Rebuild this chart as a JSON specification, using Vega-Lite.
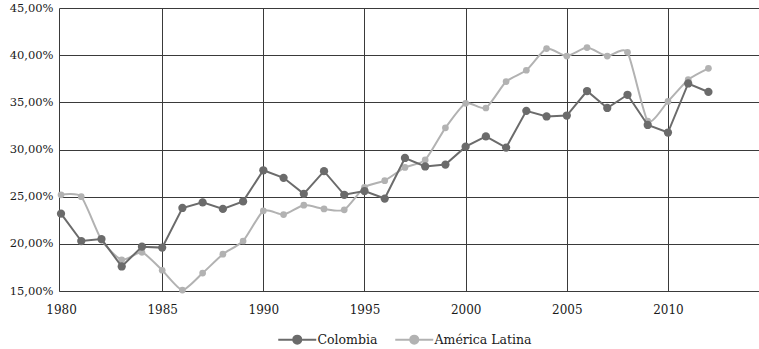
{
  "$schema": "https://vega.github.io/schema/vega-lite/v6.json",
  "width": 700,
  "height": 283,
  "autosize": {"type": "none"},
  "padding": {"left": 59, "top": 8, "right": 0, "bottom": 58},
  "background": "white",
  "config": {
    "view": {"stroke": null},
    "font": "DejaVu Serif"
  },
  "data": {
    "values": [
      {"year": 1980, "serie": "Colombia", "valor": 23.2},
      {"year": 1981, "serie": "Colombia", "valor": 20.3},
      {"year": 1982, "serie": "Colombia", "valor": 20.5},
      {"year": 1983, "serie": "Colombia", "valor": 17.6},
      {"year": 1984, "serie": "Colombia", "valor": 19.7},
      {"year": 1985, "serie": "Colombia", "valor": 19.6},
      {"year": 1986, "serie": "Colombia", "valor": 23.8},
      {"year": 1987, "serie": "Colombia", "valor": 24.4},
      {"year": 1988, "serie": "Colombia", "valor": 23.7},
      {"year": 1989, "serie": "Colombia", "valor": 24.5},
      {"year": 1990, "serie": "Colombia", "valor": 27.8},
      {"year": 1991, "serie": "Colombia", "valor": 27.0},
      {"year": 1992, "serie": "Colombia", "valor": 25.3},
      {"year": 1993, "serie": "Colombia", "valor": 27.7},
      {"year": 1994, "serie": "Colombia", "valor": 25.2},
      {"year": 1995, "serie": "Colombia", "valor": 25.6},
      {"year": 1996, "serie": "Colombia", "valor": 24.8},
      {"year": 1997, "serie": "Colombia", "valor": 29.1},
      {"year": 1998, "serie": "Colombia", "valor": 28.2},
      {"year": 1999, "serie": "Colombia", "valor": 28.4},
      {"year": 2000, "serie": "Colombia", "valor": 30.3},
      {"year": 2001, "serie": "Colombia", "valor": 31.4},
      {"year": 2002, "serie": "Colombia", "valor": 30.2},
      {"year": 2003, "serie": "Colombia", "valor": 34.1},
      {"year": 2004, "serie": "Colombia", "valor": 33.5},
      {"year": 2005, "serie": "Colombia", "valor": 33.6},
      {"year": 2006, "serie": "Colombia", "valor": 36.2},
      {"year": 2007, "serie": "Colombia", "valor": 34.4},
      {"year": 2008, "serie": "Colombia", "valor": 35.8},
      {"year": 2009, "serie": "Colombia", "valor": 32.6},
      {"year": 2010, "serie": "Colombia", "valor": 31.8},
      {"year": 2011, "serie": "Colombia", "valor": 37.0},
      {"year": 2012, "serie": "Colombia", "valor": 36.1},
      {"year": 1980, "serie": "América Latina", "valor": 25.2},
      {"year": 1981, "serie": "América Latina", "valor": 25.0},
      {"year": 1982, "serie": "América Latina", "valor": 20.4},
      {"year": 1983, "serie": "América Latina", "valor": 18.3},
      {"year": 1984, "serie": "América Latina", "valor": 19.1},
      {"year": 1985, "serie": "América Latina", "valor": 17.2},
      {"year": 1986, "serie": "América Latina", "valor": 15.1},
      {"year": 1987, "serie": "América Latina", "valor": 16.9},
      {"year": 1988, "serie": "América Latina", "valor": 18.9},
      {"year": 1989, "serie": "América Latina", "valor": 20.3},
      {"year": 1990, "serie": "América Latina", "valor": 23.5},
      {"year": 1991, "serie": "América Latina", "valor": 23.1},
      {"year": 1992, "serie": "América Latina", "valor": 24.1},
      {"year": 1993, "serie": "América Latina", "valor": 23.7},
      {"year": 1994, "serie": "América Latina", "valor": 23.6},
      {"year": 1995, "serie": "América Latina", "valor": 26.0},
      {"year": 1996, "serie": "América Latina", "valor": 26.7},
      {"year": 1997, "serie": "América Latina", "valor": 28.1},
      {"year": 1998, "serie": "América Latina", "valor": 28.9},
      {"year": 1999, "serie": "América Latina", "valor": 32.3},
      {"year": 2000, "serie": "América Latina", "valor": 34.9},
      {"year": 2001, "serie": "América Latina", "valor": 34.4},
      {"year": 2002, "serie": "América Latina", "valor": 37.2},
      {"year": 2003, "serie": "América Latina", "valor": 38.4},
      {"year": 2004, "serie": "América Latina", "valor": 40.7},
      {"year": 2005, "serie": "América Latina", "valor": 39.9},
      {"year": 2006, "serie": "América Latina", "valor": 40.8},
      {"year": 2007, "serie": "América Latina", "valor": 39.9},
      {"year": 2008, "serie": "América Latina", "valor": 40.3},
      {"year": 2009, "serie": "América Latina", "valor": 33.0},
      {"year": 2010, "serie": "América Latina", "valor": 35.1},
      {"year": 2011, "serie": "América Latina", "valor": 37.4},
      {"year": 2012, "serie": "América Latina", "valor": 38.6}
    ]
  },
  "encoding": {
    "x": {
      "field": "year",
      "type": "quantitative",
      "scale": {"domain": [1979.9, 2014.5], "nice": false, "zero": false},
      "axis": {
        "title": null,
        "values": [1980, 1985, 1990, 1995, 2000, 2005, 2010],
        "format": "d",
        "grid": true,
        "gridColor": "#3a3a3a",
        "gridWidth": 1,
        "gridOpacity": {"condition": {"test": "datum.value == 1980", "value": 0}, "value": 1},
        "ticks": false,
        "domain": true,
        "domainColor": "#3a3a3a",
        "domainWidth": 1,
        "labelPadding": 13,
        "labelFont": "DejaVu Serif",
        "labelFontSize": 12,
        "labelColor": "#1a1a1a"
      }
    },
    "y": {
      "field": "valor",
      "type": "quantitative",
      "scale": {"domain": [15, 45], "nice": false, "zero": false},
      "axis": {
        "title": null,
        "values": [15, 20, 25, 30, 35, 40, 45],
        "labelExpr": "replace(format(datum.value, '.2f'), '.', ',') + '%'",
        "grid": true,
        "gridColor": "#3a3a3a",
        "gridWidth": 1,
        "ticks": false,
        "domain": true,
        "domainColor": "#3a3a3a",
        "domainWidth": 1,
        "labelPadding": 6,
        "labelFont": "DejaVu Serif",
        "labelFontSize": 11.5,
        "labelColor": "#1a1a1a"
      }
    },
    "color": {
      "field": "serie",
      "type": "nominal",
      "scale": {"domain": ["Colombia", "América Latina"], "range": ["#6b6b6b", "#b2b2b2"]},
      "legend": {
        "title": null,
        "orient": "none",
        "direction": "horizontal",
        "legendX": 217,
        "legendY": 325,
        "symbolType": "M-1,0L8.5,0M2.75,0A1,1,0,1,1,4.75,0A1,1,0,1,1,2.75,0Z",
        "symbolSize": 64,
        "symbolStrokeWidth": 2,
        "labelOffset": 29,
        "columnPadding": 13,
        "labelFont": "DejaVu Serif",
        "labelFontSize": 12.5,
        "labelColor": "#1a1a1a",
        "encode": {
          "symbols": {
            "update": {
              "fill": {"scale": "color", "field": "value"},
              "stroke": {"scale": "color", "field": "value"},
              "opacity": {"value": 1}
            }
          }
        }
      }
    }
  },
  "layer": [
    {
      "transform": [{"filter": "datum.serie === 'América Latina'"}],
      "mark": {"type": "line", "interpolate": "cardinal", "tension": 0.4, "strokeWidth": 2}
    },
    {
      "transform": [{"filter": "datum.serie === 'América Latina'"}],
      "mark": {"type": "point", "filled": true, "size": 45, "opacity": 1}
    },
    {
      "transform": [{"filter": "datum.serie === 'Colombia'"}],
      "mark": {"type": "line", "strokeWidth": 2}
    },
    {
      "transform": [{"filter": "datum.serie === 'Colombia'"}],
      "mark": {"type": "point", "filled": true, "size": 68, "opacity": 1}
    }
  ]
}
